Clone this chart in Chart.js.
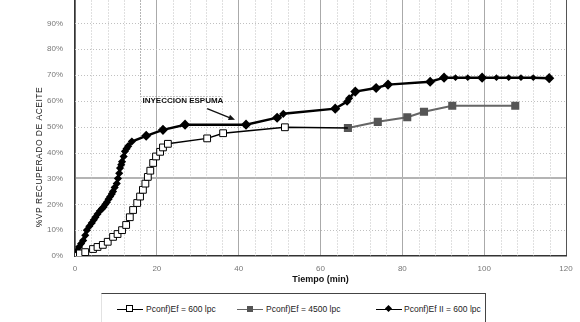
<!DOCTYPE html>
<html>
<head>
<meta charset="utf-8">
<script src="https://cdn.jsdelivr.net/npm/chart.js@4.4.1/dist/chart.umd.min.js"></script>
<style>
html, body { margin: 0; padding: 0; background: #fff; width: 580px; height: 322px; overflow: hidden; position: relative; }
#wrap { position: absolute; left: 0; top: -9px; width: 580px; height: 295px; }
#legend { position: absolute; left: 101px; top: 293px; width: 383px; height: 34px;
  border-top: 1px solid #444; border-right: 1px solid #444; border-left: 1px solid #e2e2e2;
  font: 8.5px "Liberation Sans", Arial, sans-serif; color: #222; }
#legend .it { position: absolute; top: 10px; white-space: nowrap; }
#legend .sym { position: absolute; top: 5px; width: 26px; height: 0; border-top: 1.5px solid #000; }
#legend .sym b { position: absolute; left: 9px; top: -5px; width: 7px; height: 7px; box-sizing: border-box; }
</style>
</head>
<body>
<div id="wrap"><canvas id="grafica" width="580" height="295"></canvas></div>
<div id="legend">
  <span class="sym" style="left:15px;top:15px"><b style="border:1px solid #000;background:#fff"></b></span>
  <span class="it" style="left:44px">Pconf)Ef = 600 lpc</span>
  <span class="sym" style="left:135px;top:15px;border-color:#666"><b style="background:#555;left:10px;top:-4px;width:6px;height:6px"></b></span>
  <span class="it" style="left:164px">Pconf)Ef = 4500 lpc</span>
  <span class="sym" style="left:274px;top:15px"><b style="background:#000;left:10px;top:-4px;width:5px;height:5px;transform:rotate(45deg)"></b></span>
  <span class="it" style="left:302px">Pconf)Ef II = 600 lpc</span>
</div>
<script>
// tiempo en minutos, % VP recuperado
const tiempo1 = [0, 1.2, 2.5, 4.4, 5.5, 6.8, 8.0, 9.3, 10.4, 11.5, 12.5, 13.4, 14.2, 15.2, 15.9, 16.6, 17.2, 17.8, 18.4, 19.1, 19.8, 20.8, 21.5, 22.7, 32.3, 36.2, 51.3, 66.7];
const recup1  = [0, 1.0, 1.5, 2.7, 3.5, 4.3, 5.5, 7.4, 8.5, 10.0, 12.0, 15.0, 17.8, 20.5, 23.0, 25.6, 28.0, 30.6, 33.0, 36.0, 38.5, 40.3, 42.0, 43.4, 45.5, 47.5, 49.8, 49.5];

const tiempo2 = [66.7, 74.0, 81.2, 85.3, 92.2, 107.6];
const recup2  = [49.5, 51.9, 53.7, 55.8, 58.1, 58.1];

const tiempo3 = [0, 0.5, 1, 1.5, 2, 2.5, 2.9, 3.5, 4.1, 4.6, 5, 5.5, 6.1, 6.6, 7, 7.4, 7.8, 8.2, 8.6, 9, 9.3, 9.7, 10.2, 10.5, 10.8, 11, 11.3, 11.5, 11.9, 12.2, 12.6, 13, 13.9, 17.4, 21.5, 26.9, 41.8, 49.4, 50.9, 63.6, 66.5, 67, 68.5, 73.6, 76.5, 86.8, 90.2, 93, 96, 99.5, 103, 106, 109, 112, 115.9];
const recup3  = [0, 2, 3.5, 4.8, 6, 8, 10, 11.5, 12.8, 14, 15, 16.2, 17.5, 18.3, 19, 20, 20.8, 22, 23, 24, 25, 26.5, 28, 30, 32, 34, 35.3, 36.5, 38.5, 40.5, 41.5, 42.5, 44.3, 46.5, 48.8, 50.8, 50.8, 53.5, 55, 57, 59.7, 61, 63.6, 65, 66.3, 67.4, 69, 69, 69, 69, 69, 69, 69, 69, 68.8];
// puntos marcados con rombo grande en la serie 3 (el resto, marcas pequeñas)
const rombosGrandes3 = [17.4, 21.5, 26.9, 41.8, 49.4, 63.6, 68.5, 73.6, 76.5, 86.8, 90.2, 99.5, 115.9];

const etiquetas = ['Pconf)Ef = 600 lpc', 'Pconf)Ef = 4500 lpc', 'Pconf)Ef II = 600 lpc'];
const tituloY = '%VP RECUPERADO DE ACEITE';
const tituloX = 'Tiempo (min)';
const nota = 'INYECCION ESPUMA';
const notaPos = { x: 16, y: 60 };
const flecha = { x1: 32.3, y1: 57, x2: 39.1, y2: 52.7 };

const pares = (xs, ys) => xs.map((v, i) => ({ x: v, y: ys[i] }));

const extras = {
  id: 'extras',
  beforeDatasetsDraw(chart) {
    const { ctx, chartArea: a, scales: { x, y } } = chart;
    ctx.save();
    ctx.lineWidth = 1;
    ctx.setLineDash([1, 2]);
    ctx.strokeStyle = '#c0c0c0';
    for (let t = 4; t < 120; t += 4) {
      if (t % 20 === 0) continue;
      const px = Math.round(x.getPixelForValue(t)) + 0.5;
      ctx.beginPath(); ctx.moveTo(px, a.top); ctx.lineTo(px, a.bottom); ctx.stroke();
    }
    for (let p = 10; p < 100; p += 10) {
      if (p === 30) continue;
      const py = Math.round(y.getPixelForValue(p)) + 0.5;
      ctx.beginPath(); ctx.moveTo(a.left, py); ctx.lineTo(a.right, py); ctx.stroke();
    }
    // recuadro punteado de la nota
    ctx.strokeStyle = '#888';
    const bx = Math.round(x.getPixelForValue(16)) + 0.5;
    const by = Math.round(y.getPixelForValue(62)) + 0.5;
    const bx2 = x.getPixelForValue(36.2);
    ctx.beginPath(); ctx.moveTo(bx, a.top); ctx.lineTo(bx, by); ctx.lineTo(bx2, by); ctx.stroke();
    ctx.restore();
  },
  afterDatasetsDraw(chart) {
    const { ctx, scales: { x, y } } = chart;
    ctx.save();
    ctx.fillStyle = '#111';
    ctx.font = 'bold 8px "Liberation Sans", Arial, sans-serif';
    ctx.textBaseline = 'middle';
    ctx.fillText(nota, x.getPixelForValue(notaPos.x) + 2, y.getPixelForValue(notaPos.y));
    // flecha
    const x1 = x.getPixelForValue(flecha.x1), y1 = y.getPixelForValue(flecha.y1);
    const x2 = x.getPixelForValue(flecha.x2), y2 = y.getPixelForValue(flecha.y2);
    const ang = Math.atan2(y2 - y1, x2 - x1);
    ctx.strokeStyle = '#111'; ctx.lineWidth = 1.3;
    ctx.beginPath(); ctx.moveTo(x1, y1); ctx.lineTo(x2 - 4 * Math.cos(ang), y2 - 4 * Math.sin(ang)); ctx.stroke();
    ctx.beginPath();
    ctx.moveTo(x2, y2);
    ctx.lineTo(x2 - 7 * Math.cos(ang - 0.4), y2 - 7 * Math.sin(ang - 0.4));
    ctx.lineTo(x2 - 7 * Math.cos(ang + 0.4), y2 - 7 * Math.sin(ang + 0.4));
    ctx.closePath(); ctx.fill();
    // titulo eje Y
    ctx.translate(40, 166);
    ctx.rotate(-Math.PI / 2);
    ctx.font = '8.5px "Liberation Sans", Arial, sans-serif';
    ctx.letterSpacing = '0.5px';
    ctx.fillStyle = '#222';
    ctx.textAlign = 'center';
    ctx.fillText(tituloY, 0, 0);
    ctx.restore();
  }
};

const ctx1 = document.getElementById('grafica').getContext('2d');
const grafica = new Chart(ctx1, {
  type: 'line',
  data: {
    datasets: [
      {
        label: etiquetas[0],
        data: pares(tiempo1, recup1),
        borderColor: '#000',
        borderWidth: 1.5,
        pointStyle: 'rect',
        pointRadius: c => (c.dataIndex === tiempo1.length - 1 ? 0 : 4.8),
        pointBackgroundColor: '#fff',
        pointBorderColor: '#000',
        pointBorderWidth: 1,
        fill: false
      },
      {
        label: etiquetas[1],
        data: pares(tiempo2, recup2),
        borderColor: '#666',
        borderWidth: 2,
        pointStyle: 'rect',
        pointRadius: 4.3,
        pointBackgroundColor: '#555',
        pointBorderColor: '#555',
        fill: false
      },
      {
        label: etiquetas[2],
        data: pares(tiempo3, recup3),
        borderColor: '#000',
        borderWidth: 2.5,
        pointStyle: 'rectRot',
        pointRadius: c => {
          const t = tiempo3[c.dataIndex];
          if (rombosGrandes3.includes(t)) return 3.3;
          return t > 88 ? 1.6 : 2.3;
        },
        pointBackgroundColor: '#000',
        pointBorderColor: '#000',
        fill: false
      }
    ]
  },
  options: {
    responsive: false,
    animation: false,
    devicePixelRatio: 1,
    layout: { padding: { top: 1, right: 14, left: 0, bottom: 0 } },
    elements: { line: { tension: 0 } },
    plugins: { legend: { display: false }, tooltip: { enabled: false } },
    scales: {
      x: {
        type: 'linear',
        min: 0,
        max: 120,
        ticks: { stepSize: 20, padding: 8, color: '#777', font: { family: '"Liberation Sans", Arial, sans-serif', size: 8 } },
        grid: {
          drawTicks: false,
          color: c => (c.tick && c.tick.value === 120 ? '#555' : '#aaa'),
          lineWidth: 1
        },
        border: { color: '#333', width: 1.5 },
        title: {
          display: true,
          text: tituloX,
          color: '#111',
          font: { family: '"Liberation Sans", Arial, sans-serif', size: 9, weight: 'bold', lineHeight: 1 },
          padding: { top: 0, bottom: 2 }
        },
        afterFit: s => { s.height = 30; s.paddingLeft = 0; s.paddingRight = 0; }
      },
      y: {
        min: 0,
        max: 100,
        ticks: {
          stepSize: 10,
          padding: 12,
          color: '#777',
          font: { family: '"Liberation Sans", Arial, sans-serif', size: 8 },
          callback: v => v + '%'
        },
        grid: {
          drawTicks: false,
          color: c => (c.tick && c.tick.value === 30 ? '#b4b4b4' : 'rgba(0,0,0,0)'),
          lineWidth: c => (c.tick && c.tick.value === 30 ? 2 : 1)
        },
        border: { color: '#333', width: 1.5 },
        afterFit: s => { s.width = 75; s.paddingTop = 0; s.paddingBottom = 0; }
      }
    }
  },
  plugins: [extras]
});
</script>
</body>
</html>
